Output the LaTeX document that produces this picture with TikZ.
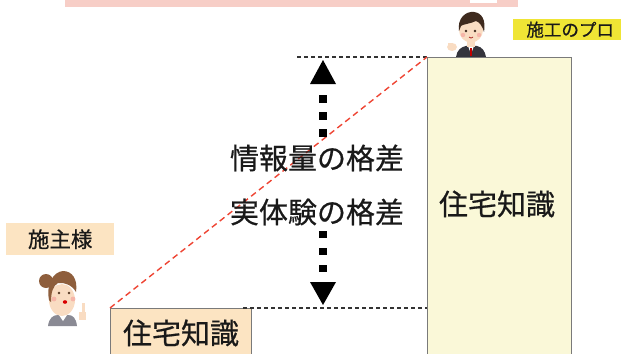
\documentclass[tikz,border=0pt]{standalone}
\usepackage{fontspec}
\setmainfont{Noto Sans CJK JP}[FakeBold=0.6]
\begin{document}
\begin{tikzpicture}[x=1pt,y=-1pt,
  knowbox/.style={draw=boxgray,line width=1.4pt,inner sep=0pt,anchor=north west},
  tag/.style={inner sep=0pt,anchor=north west},
  bigtxt/.style={font=\fontsize{29}{29}\selectfont,inner sep=0pt,text=black!90},
  guide/.style={draw=black!80,line width=1.1pt,dash pattern=on 4pt off 3pt},
  slope/.style={draw=slopered,line width=1.4pt,dash pattern=on 6pt off 4pt},
  gapshaft/.style={line width=8pt,dash pattern=on 8pt off 9pt},
  skin/.style={fill=skincol},
]
\definecolor{boxgray}{HTML}{7A7A7A}
\definecolor{slopered}{HTML}{EE4433}
\definecolor{profill}{HTML}{FAF8D8}
\definecolor{ownerfill}{HTML}{FCE4C2}
\definecolor{protag}{HTML}{EFE535}
\definecolor{banner}{HTML}{F7CEC7}
\definecolor{skincol}{HTML}{F9DCC2}
\definecolor{hairm}{HTML}{3E2A1E}
\definecolor{hairf}{HTML}{8E5E3C}
\definecolor{suit}{HTML}{34343C}
\definecolor{blouse}{HTML}{8A8A94}
\definecolor{cheek}{HTML}{F6B5A8}

\useasboundingbox (0,0) rectangle (623,353);

% heading band
\fill[banner] (65,-5) rectangle (518,7.5);
\fill[white] (470,-5) rectangle (497,3);

% knowledge blocks
\node[knowbox,fill=profill,minimum width=144pt,minimum height=320pt] (probox) at (427,57) {};
\node[bigtxt] (protext) at (497,204) {住宅知識};
\node[knowbox,fill=ownerfill,minimum width=141pt,minimum height=60pt] (ownbox) at (110,308) {};
\node[bigtxt] (owntext) at (181,333) {住宅知識};

% role tags
\node[tag,fill=protag,minimum width=108pt,minimum height=21pt] (protagbox) at (513,19) {};
\node[font=\fontsize{17.5}{17.5}\selectfont,inner sep=0pt,text=black!90] (protaglbl) at ([xshift=3pt]protagbox.center) {施工のプロ};
\node[tag,fill=ownerfill,minimum width=108pt,minimum height=32pt] (owntagbox) at (6,223) {};
\node[font=\fontsize{21.5}{21.5}\selectfont,inner sep=0pt,text=black!90] (owntaglbl) at (owntagbox.center) {施主様};

% level guides
\coordinate (topguide) at (297,57);
\coordinate (lowguide) at (243,308);
\draw[guide] (topguide) -- (probox.north west);
\draw[guide] (lowguide) -- (probox.west |- lowguide);
\draw[slope] (ownbox.north west) -- (probox.north west);

% gap labels
\node[bigtxt] (gapa) at (317,158) {情報量の格差};
\node[bigtxt] (gapb) at (317,212) {実体験の格差};

% double arrow between the two levels
\coordinate (uptip) at (323,60);
\coordinate (downtip) at (323,305);
\fill (uptip) -- (336,84) -- (310,84) -- cycle;
\draw[gapshaft] (323,95) -- (323,141);
\fill (downtip) -- (336,282) -- (310,282) -- cycle;
\draw[gapshaft,dash pattern=on 7pt off 10pt] (323,231) -- (323,275);

% builder figure
\fill[skin] (452,47) ellipse (5pt and 4pt);
\fill[skin] (448,43) rectangle (452,46);
\fill[suit] (456,57) .. controls (457,50) and (461,47) .. (466,46) -- (477,46)
  .. controls (482,47) and (485,51) .. (486,57) -- cycle;
\fill[white] (468,46) -- (471,54) -- (474,46) -- cycle;
\fill[red!75!black] (470.2,48) rectangle (471.8,56);
\fill[skin] (467,40) rectangle (475,47);
\fill[skin] (471,30) ellipse (12pt and 12.5pt);
\fill[hairm] (459,31) .. controls (457,18) and (466,11) .. (474,12)
  .. controls (482,13) and (486,20) .. (484,32)
  .. controls (482,25) and (479,22) .. (476,21)
  .. controls (470,24) and (463,24) .. (461,26) -- cycle;
\fill[hairm] (466,31) circle (1.3pt) (475,31) circle (1.3pt);
\fill[cheek] (463,35) circle (2.2pt) (479,35) circle (2.2pt);
\draw[red!60!black,line width=0.6pt] (469,37) .. controls (471,38.5) .. (473,37);

% owner figure
\fill[blouse] (48,326) .. controls (49,318) and (53,315) .. (58,315) -- (68,315)
  .. controls (73,315) and (76,318) .. (77,326) -- cycle;
\fill[white] (59,315) -- (63,321) -- (67,315) -- cycle;
\fill[skin] (79,312) rectangle (86,320);
\fill[skin] (82,303) rectangle (85,313);
\fill[hairf] (46,281) circle (7pt);
\fill[skin] (62,300) ellipse (13pt and 16pt);
\fill[hairf] (49,300) .. controls (46,284) and (53,272) .. (63,271)
  .. controls (72,271) and (78,279) .. (76,292)
  .. controls (72,285) and (64,282) .. (58,283)
  .. controls (53,286) and (51,292) .. (51,302) -- cycle;
\fill[hairf!60!black] (59,293) circle (1.4pt) (69,293) circle (1.4pt);
\fill[cheek] (54,299) circle (2.4pt) (73,299) circle (2.4pt);
\fill[red!85!black] (65,302) ellipse (2.2pt and 1.8pt);
\end{tikzpicture}
\end{document}
